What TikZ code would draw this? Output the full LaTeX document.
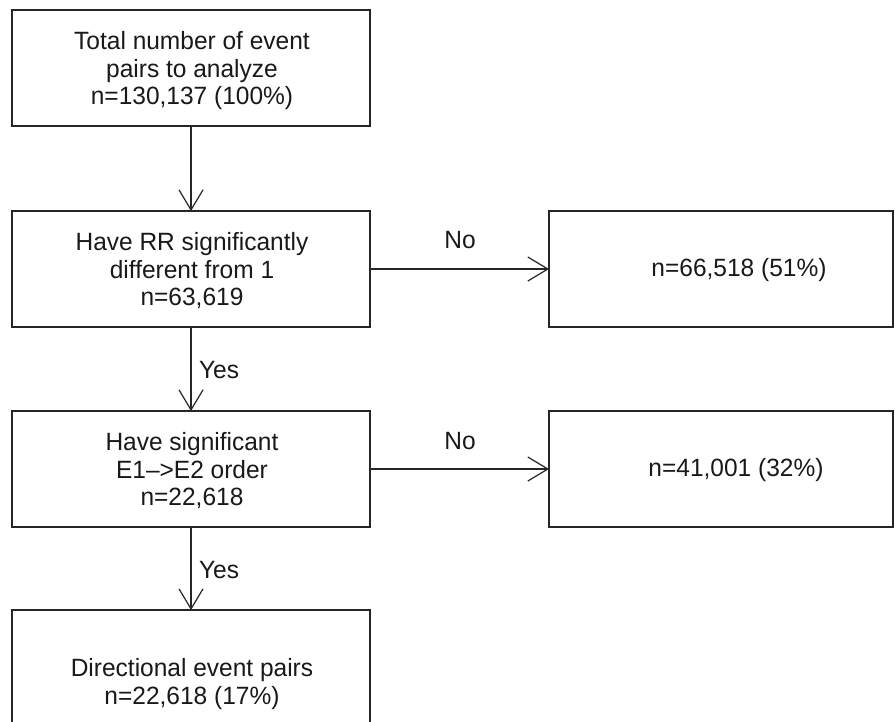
\documentclass[tikz,border=0pt]{standalone}
\usepackage{fontspec}
\setmainfont{Liberation Sans}[FakeStretch=0.98]
\usetikzlibrary{arrows.meta}
\begin{document}
\begin{tikzpicture}[x=1pt,y=-1pt,
  box/.style={draw=black!85,line width=1.3pt,inner sep=0pt},
  lbl/.style={font=\fontsize{25}{27.5}\selectfont,align=center,text=black!90},
  conn/.style={draw=black!85,line width=1.2pt,-{Straight Barb[length=20pt,width=24pt,line width=1.2pt]}}]
\useasboundingbox (0,0) rectangle (895,721);
\clip (0,0) rectangle (895,721);
% boxes
\draw[box] (12,10) rectangle (370,126);
\node[lbl] (t1) at (192,71) {Total number of event\\pairs to analyze\\n=130,137 (100\%)};
\draw[box] (12,211) rectangle (370,327);
\node[lbl] (t2) at (192,271) {Have RR significantly\\different from 1\\n=63,619};
\draw[box] (549,211) rectangle (893,327);
\node[lbl] (r1) at (739,270) {n=66,518 (51\%)};
\draw[box] (12,411) rectangle (370,527);
\node[lbl] (t3) at (192,471) {Have significant\\E1{\textendash}>E2 order\\n=22,618};
\draw[box] (549,411) rectangle (893,527);
\node[lbl] (r2) at (736,470) {n=41,001 (32\%)};
\draw[box] (12,610) rectangle (370,740);
\node[lbl] (t4) at (192,684) {Directional event pairs\\n=22,618 (17\%)};
% named anchor coordinates
\coordinate (b1s) at (191,126);
\coordinate (b2n) at (191,211);
\coordinate (b2s) at (191,327);
\coordinate (b3n) at (191,411);
\coordinate (b3s) at (191,527);
\coordinate (b4n) at (191,610);
\coordinate (b2e) at (370,269);
\coordinate (r1w) at (549,269);
\coordinate (b3e) at (370,469);
\coordinate (r2w) at (549,469);
% connectors
\draw[conn] (b1s) -- (b2n);
\draw[conn] (b2s) -- (b3n);
\draw[conn] (b3s) -- (b4n);
\draw[conn] (b2e) -- (r1w);
\draw[conn] (b3e) -- (r2w);
% labels
\node[lbl] (y1) at (219,370) {Yes};
\node[lbl] (y2) at (219,570) {Yes};
\node[lbl] (n1) at (460,240) {No};
\node[lbl] (n2) at (460,441) {No};
\end{tikzpicture}
\end{document}
